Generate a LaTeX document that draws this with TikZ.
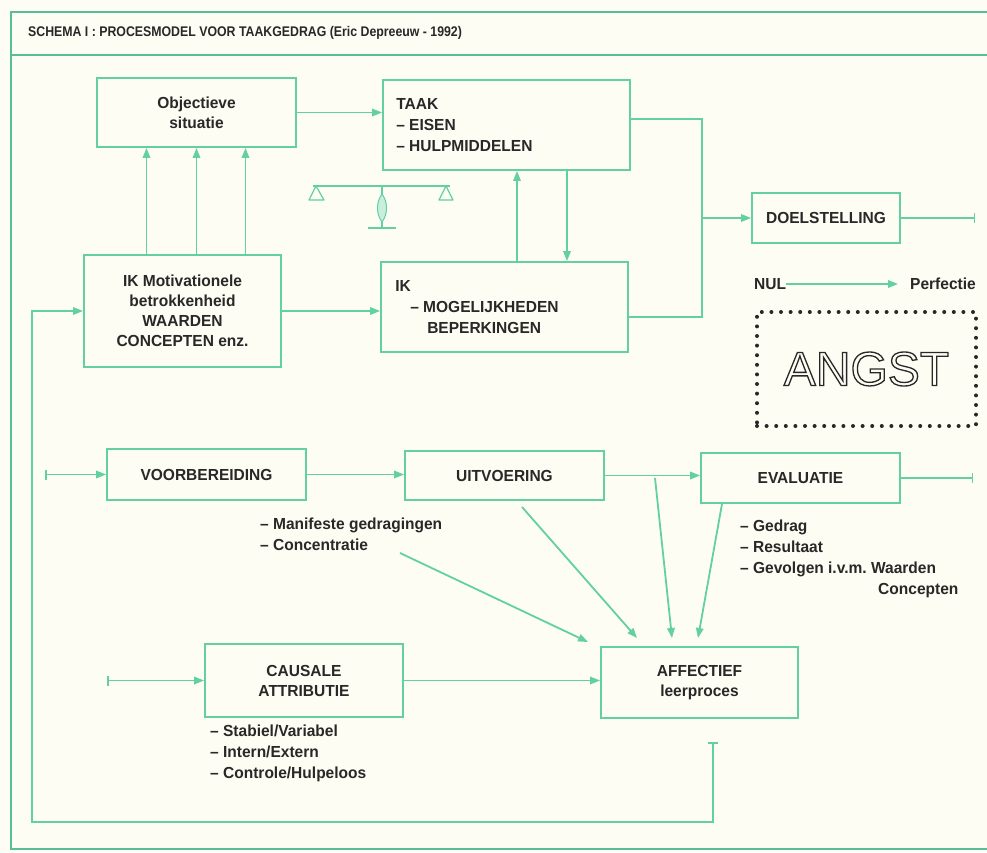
\documentclass[tikz,border=0pt]{standalone}
\usepackage{fontspec}
\newfontfamily\hv[FakeStretch=0.97]{Liberation Sans}
\newfontfamily\hvt[FakeStretch=0.88]{Liberation Sans}
\newfontfamily\hvo{Liberation Sans}
\usetikzlibrary{arrows.meta,calc}
\definecolor{mint}{RGB}{98,208,160}
\definecolor{mintdark}{RGB}{88,190,150}
\definecolor{paper}{RGB}{254,253,243}
\definecolor{ink}{RGB}{40,40,40}

\begin{document}
\begin{tikzpicture}[x=1pt,y=-1pt,
  box/.style={draw=mint,line width=1.9pt,inner sep=0pt,text=ink,
    font=\hv\bfseries\fontsize{16}{20}\selectfont,align=center},
  lbl/.style={inner sep=0pt,text=ink,font=\hv\bfseries\fontsize{16}{21}\selectfont,align=left},
  conn/.style={draw=mint,line width=1.8pt},
  arr/.style={conn,-{Triangle[length=10pt,width=7.5pt]}},
  bararr/.style={conn,{Bar[width=10pt,line width=1.5pt]}-{Triangle[length=10pt,width=7.5pt]}},
  barend/.style={conn,-{Bar[width=10pt,line width=1.5pt]}},
]
\useasboundingbox (0,0) rectangle (987,852);
\fill[paper] (0,0) rectangle (987,852);

% outer frame and title band
\draw[mintdark,line width=1.5pt] (987,12) -- (11,12) -- (11,849) -- (987,849);
\draw[mintdark,line width=1.5pt] (11,55) -- (987,55);
\node[lbl,anchor=west,font=\hvt\bfseries\fontsize{14}{16}\selectfont] (title) at (28,33)
  {SCHEMA I : PROCESMODEL VOOR TAAKGEDRAG (Eric Depreeuw - 1992)};

% upper block
\node[box,minimum width=199pt,minimum height=69pt] (obj) at (196.5,112.5) {Objectieve\\situatie};
\node[box,minimum width=247pt,minimum height=90pt] (taak) at (506.5,125) {};
\node[lbl,anchor=west] (taaktxt) at ([xshift=14pt]taak.west) {TAAK\\– EISEN\\– HULPMIDDELEN};
\node[box,minimum width=197pt,minimum height=112pt] (ikm) at (182.5,311)
  {IK Motivationele\\betrokkenheid\\WAARDEN\\CONCEPTEN enz.};
\node[box,minimum width=247pt,minimum height=90pt] (ik) at (504.5,307) {};
\node[lbl,anchor=west] (iktxt) at ([xshift=15pt]ik.west)
  {IK\\\hspace*{15pt}– MOGELIJKHEDEN\\\hspace*{32pt}BEPERKINGEN};
\node[box,minimum width=148pt,minimum height=50pt] (doel) at (826,218) {DOELSTELLING};

% three arrows from IK motivation up to the objective situation
\coordinate (u1) at ([xshift=-50pt]obj.south);
\coordinate (u2) at (obj.south);
\coordinate (u3) at ([xshift=49pt]obj.south);
\foreach \u in {u1,u2,u3} \draw[arr] (\u |- ikm.north) -- (\u);

\draw[arr] (obj.east) -- (obj.east -| taak.west);
\draw[arr] (ikm.east) -- (ikm.east -| ik.west);

% exchange between task and self
\coordinate (up) at (517,0);
\coordinate (dn) at (567,0);
\draw[arr] (up |- ik.north) -- (up |- taak.south);
\draw[arr] (dn |- taak.south) -- (dn |- ik.north);

% merging into the goal
\coordinate (jn) at (702,218);
\draw[conn] ([yshift=6pt]taak.east) -| (jn);
\draw[conn] ([yshift=-10pt]ik.east) -| (jn);
\draw[arr] (jn) -- (doel.west);
\coordinate (doelend) at (975,218);
\draw[barend] (doel.east) -- (doelend);

% balance
\draw[mint,line width=1.3pt] (313,186) -- (450,186);
\draw[mint,line width=1.2pt,line join=round] (316,186) -- (309,200) -- (324,200) -- cycle;
\draw[mint,line width=1.2pt,line join=round] (446,186) -- (439,200) -- (453,200) -- cycle;
\draw[mint,line width=1.2pt] (382,186) -- (382,228);
\draw[mint,line width=1pt,fill=mint!35] (382,194) .. controls (388,202) and (388,214) .. (382,222)
  .. controls (376,214) and (376,202) .. (382,194);
\draw[mint,line width=1.5pt] (368,228) -- (396,228);

% scale from zero to perfection
\node[lbl,anchor=west] (nul) at (754,284) {NUL};
\node[lbl,anchor=west] (perf) at (910,284) {Perfectie};
\draw[arr] (nul.east) -- ([xshift=-12pt]perf.west);

% anxiety box
\node[draw=ink,line width=4pt,dash pattern=on 0pt off 9.6pt,line cap=round,
  minimum width=219pt,minimum height=114pt,inner sep=0pt] (angst) at (866.5,369) {};

% action sequence
\node[box,minimum width=199pt,minimum height=51pt] (voor) at (206.5,474.5) {VOORBEREIDING};
\node[box,minimum width=199pt,minimum height=49pt] (uit) at (504.5,475.5) {UITVOERING};
\node[box,minimum width=199pt,minimum height=50pt] (eval) at (800.5,478) {EVALUATIE};
\coordinate (voorstart) at (45,474.5);
\draw[bararr] (voorstart) -- (voor.west);
\draw[arr] (voor.east) -- (voor.east -| uit.west);
\draw[arr] (uit.east) -- (uit.east -| eval.west);
\coordinate (evalend) at (973,478);
\draw[barend] (eval.east) -- (evalend);

\node[lbl,anchor=north west] (manif) at (260,518) {– Manifeste gedragingen\\– Concentratie};
\node[lbl,anchor=north west] (gedrag) at (740,520)
  {– Gedrag\\– Resultaat\\– Gevolgen i.v.m.\ Waarden\\\hspace*{138pt}Concepten};

% attribution and affective learning
\node[box,minimum width=198pt,minimum height=73pt] (caus) at (304,680.5) {CAUSALE\\ATTRIBUTIE};
\node[box,minimum width=197pt,minimum height=71pt] (aff) at (699.5,682.5) {AFFECTIEF\\leerproces};
\coordinate (causstart) at (107,680.5);
\draw[bararr] (causstart) -- (caus.west);
\draw[arr] (caus.east) -- (caus.east -| aff.west);
\node[lbl,anchor=north west] (causlist) at (210,725)
  {– Stabiel/Variabel\\– Intern/Extern\\– Controle/Hulpeloos};

% influences on affective learning
\coordinate (s1) at (400,553);
\coordinate (s2) at (522,507);
\coordinate (s3) at (655,478);
\coordinate (s4) at (722,504);
\coordinate (t1) at (588,642);
\coordinate (t2) at (637,638);
\coordinate (t3) at (672,638);
\coordinate (t4) at (698,638);
\draw[arr] (s1) -- (t1);
\draw[arr] (s2) -- (t2);
\draw[arr] (s3) -- (t3);
\draw[arr] (s4) -- (t4);

% feedback loop back to the self
\coordinate (fb0) at (713,742);
\coordinate (fbl) at (32,822);
\draw[bararr] (fb0) |- (fbl) |- (ikm.west);

% outlined lettering
\node[inner sep=0pt,text=ink,font=\hvo\fontsize{48}{48}\selectfont] (angsttxt) at (angst.center)
  {\special{pdf:literal direct 1 Tr 1.3 w}ANGST\special{pdf:literal direct 0 Tr}};
\end{tikzpicture}
\end{document}
